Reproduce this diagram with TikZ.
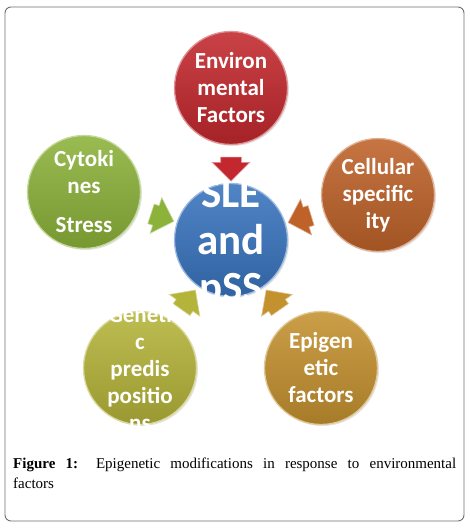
\documentclass[tikz,border=0pt]{standalone}
\usepackage{fontspec}
\setmainfont{Liberation Serif}
\newfontfamily\carlito{Carlito}
\usetikzlibrary{shapes.arrows,shadows,positioning}
\definecolor{envred}{HTML}{C2282D}
\definecolor{cytgreen}{HTML}{8CB23A}
\definecolor{cellorange}{HTML}{BE6229}
\definecolor{sleblue}{HTML}{3974BE}
\definecolor{genolive}{HTML}{B5B43A}
\definecolor{epigold}{HTML}{C4912F}
\definecolor{framegray}{HTML}{6E6E6E}

\begin{document}
\begin{tikzpicture}[x=1pt,y=-1pt]
\tikzset{ball/.style={circle,minimum size=113pt,inner sep=0pt,draw=#1!50!white,line width=1.3pt,
  top color=#1!88!white,bottom color=#1!85!black,
  drop shadow={opacity=.22,shadow xshift=1.5pt,shadow yshift=-1.5pt}},
word/.style={text=white,align=center,inner sep=0pt,font=\carlito\bfseries\fontsize{23}{27}\selectfont},
bigword/.style={word,yshift=-4pt,font=\carlito\bfseries\fontsize{43}{47}\selectfont},
pointer/.style={single arrow,sloped,allow upside down,minimum height=24pt,inner xsep=0pt,inner ysep=10pt,
  single arrow head extend=8.5pt,fill=#1,draw=#1!50!white,line width=.6pt}}
\useasboundingbox (0,0) rectangle (470,528);
\draw[framegray,line width=.9pt,rounded corners=6pt] (5,7) rectangle (464,521);
% circles
\node[ball=envred,label={[word]center:Environ\\mental\\Factors}] (env) at (231,88) {};
\node[ball=cytgreen,label={[word]center:Cytoki\\nes\\[12pt]Stress}] (cyt) at (84,192) {};
\node[ball=cellorange,label={[word]center:Cellular\\specific\\ity}] (cell) at (378,195) {};
\node[ball=genolive,label={[word]center:Geneti\\c\\predis\\positio\\ns}] (gen) at (140,368) {};
\node[ball=epigold,label={[word]center:Epigen\\etic\\factors}] (epi) at (321,368) {};
\node[ball=sleblue,label={[bigword]center:SLE\\and\\pSS}] (sle) at (231,240) {};
% arrows into the centre
\path (env) -- node[pointer=envred] (env-a) {} (sle);
\path (cyt) -- node[pointer=cytgreen] (cyt-a) {} (sle);
\path (cell) -- node[pointer=cellorange] (cell-a) {} (sle);
\path (gen) -- node[pointer=genolive] (gen-a) {} (sle);
\path (epi) -- node[pointer=epigold] (epi-a) {} (sle);
% caption
\node[anchor=north west,text width=443pt,align=justify,inner sep=0pt,
  font=\rmfamily\fontsize{15}{19.5}\selectfont] (cap) at (13,458)
  {\textbf{Figure 1:} Epigenetic modifications in response to environmental\linebreak factors};
\end{tikzpicture}
\end{document}
